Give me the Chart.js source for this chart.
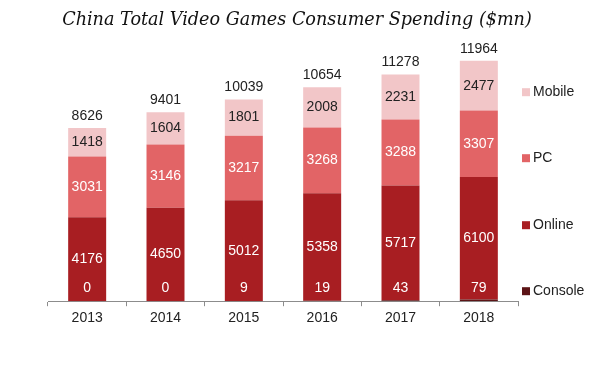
<!DOCTYPE html>
<html>
<head>
<meta charset="utf-8">
<script src="https://cdn.jsdelivr.net/npm/chart.js@4/dist/chart.umd.min.js"></script>
<style>
html,body{margin:0;padding:0;background:#fff;}
#wrap{width:600px;height:371px;position:relative;}
</style>
</head>
<body>
<div id="wrap"><canvas id="c" width="600" height="371"></canvas></div>
<script>
const titleText = "China Total Video Games Consumer Spending ($mn)";
const categories = ["2013", "2014", "2015", "2016", "2017", "2018"];
const consoleVals = [0, 0, 9, 19, 43, 79];
const onlineVals = [4176, 4650, 5012, 5358, 5717, 6100];
const pcVals = [3031, 3146, 3217, 3268, 3288, 3307];
const mobileVals = [1418, 1604, 1801, 2008, 2231, 2477];
const totalVals = [8626, 9401, 10039, 10654, 11278, 11964];
const seriesNames = ["Console", "Online", "PC", "Mobile"];
const seriesColors = ["#5c1416", "#a81e22", "#e26466", "#f2c6c8"];

const labelPlugin = {
  id: 'labels',
  afterDatasetsDraw(chart) {
    const ctx = chart.ctx;
    const y = chart.scales.y;
    const area = chart.chartArea;
    ctx.save();
    ctx.font = '14px "Liberation Sans", Arial, sans-serif';
    ctx.textAlign = 'center';
    ctx.textBaseline = 'middle';
    const base = y.getPixelForValue(0);
    chart.data.datasets.forEach((ds, di) => {
      const meta = chart.getDatasetMeta(di);
      meta.data.forEach((bar, i) => {
        let cy;
        if (di === 0) { cy = base - 13; ctx.fillStyle = '#ffffff'; }
        else { cy = (bar.y + bar.base) / 2; ctx.fillStyle = di === 3 ? '#222222' : '#ffffff'; }
        ctx.fillText(String(ds.data[i]), bar.x, cy);
        if (di === 3) {
          ctx.fillStyle = '#222222';
          ctx.fillText(String(totalVals[i]), bar.x, bar.y - 12);
        }
      });
    });
    // legend
    const offs = [10, 76, 143, 209];
    ctx.textAlign = 'left';
    for (let k = 0; k < 4; k++) {
      const ly = area.bottom - offs[k];
      ctx.fillStyle = seriesColors[k];
      ctx.fillRect(area.right + 4, ly - 4, 8, 8);
      ctx.fillStyle = '#222222';
      ctx.fillText(seriesNames[k], area.right + 15, ly);
    }
    // title
    ctx.font = 'italic 17.6px "DejaVu Serif", serif';
    ctx.textAlign = 'center';
    ctx.textBaseline = 'alphabetic';
    ctx.fillStyle = '#111111';
    ctx.fillText(titleText, 297, 25);
    ctx.restore();
  }
};

new Chart(document.getElementById('c'), {
  type: 'bar',
  data: {
    labels: categories,
    datasets: [
      { label: seriesNames[0], data: consoleVals, backgroundColor: seriesColors[0] },
      { label: seriesNames[1], data: onlineVals, backgroundColor: seriesColors[1] },
      { label: seriesNames[2], data: pcVals, backgroundColor: seriesColors[2] },
      { label: seriesNames[3], data: mobileVals, backgroundColor: seriesColors[3] }
    ]
  },
  options: {
    responsive: false,
    animation: false,
    layout: { padding: { left: 48, right: 82, top: 40, bottom: 40 } },
    plugins: { legend: { display: false }, tooltip: { enabled: false }, title: { display: false } },
    datasets: { bar: { barPercentage: 0.485, categoryPercentage: 1.0 } },
    scales: {
      x: {
        stacked: true,
        grid: { display: true, drawOnChartArea: false, drawTicks: true, tickLength: 5, offset: true, color: '#8c8c8c' },
        border: { display: true, color: '#8c8c8c' },
        ticks: { color: '#222222', font: { size: 14, family: '"Liberation Sans", Arial, sans-serif' }, padding: 4 }
      },
      y: {
        stacked: true,
        display: false,
        min: 0,
        max: 13000
      }
    }
  },
  plugins: [labelPlugin]
});
</script>
</body>
</html>
